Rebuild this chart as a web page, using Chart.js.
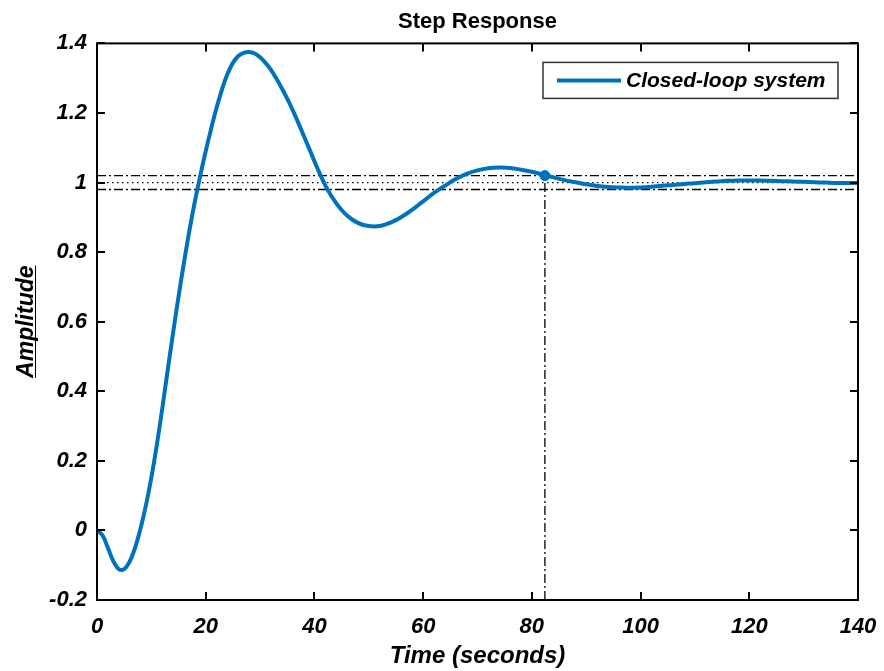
<!DOCTYPE html>
<html lang="en">
  <head>
    <meta charset="utf-8">
    <script src="https://cdn.jsdelivr.net/npm/chart.js"></script>
    <title>Step Response</title>
    <style>
      body { margin: 0; background: #fff; }
      #wrap { width: 884px; height: 671px; }
    </style>
  </head>
  <body>
    <div id="wrap"><canvas id="chart" width="884" height="671"></canvas></div>
  </body>
  <script>
    // step response samples (seconds, amplitude)
    const timeSec = [0, 1, 2, 3, 4, 5, 6, 7, 8, 9, 10, 11, 12, 13, 14, 15, 16, 17, 18, 19,
      20, 21, 22, 23, 24, 25, 26, 27, 28, 29, 30, 31, 32, 33, 34, 35, 36, 37, 38, 39,
      40, 41, 42, 43, 44, 45, 46, 47, 48, 49, 50, 51, 52, 53, 54, 55, 56, 57, 58, 59,
      60, 62, 64, 66, 68, 70, 72, 74, 76, 78, 80, 82, 84, 86, 88, 90, 92, 94, 96, 98,
      100, 102, 104, 106, 108, 110, 112, 114, 116, 118, 120, 122, 124, 126, 128, 130,
      132, 134, 136, 138, 140];
    const amplitude = [0, -0.014, -0.05, -0.088, -0.111, -0.111, -0.09, -0.05, 0.005, 0.072,
      0.152, 0.245, 0.35, 0.46, 0.568, 0.672, 0.77, 0.862, 0.945, 1.02,
      1.09, 1.155, 1.215, 1.268, 1.312, 1.344, 1.364, 1.373, 1.375, 1.371,
      1.36, 1.344, 1.324, 1.299, 1.271, 1.241, 1.208, 1.173, 1.136, 1.099,
      1.061, 1.025, 0.992, 0.964, 0.941, 0.921, 0.905, 0.893, 0.884, 0.878,
      0.875, 0.874, 0.875, 0.879, 0.885, 0.892, 0.901, 0.911, 0.922, 0.934,
      0.946, 0.97, 0.991, 1.01, 1.025, 1.035, 1.041, 1.043, 1.042, 1.037,
      1.031, 1.023, 1.015, 1.007, 1.001, 0.995, 0.99, 0.987, 0.986, 0.985,
      0.986, 0.988, 0.991, 0.993, 0.996, 0.998, 1.001, 1.003, 1.005, 1.006,
      1.006, 1.006, 1.005, 1.004, 1.003, 1.002, 1.001, 1.0, 0.999, 0.999, 0.999];

    const finalValue = 1;
    const settleBand = [0.98, 1.02]; // 2% band
    const settleTime = 82.4;
    const xRange = [0, 140];
    const yRange = [-0.2, 1.4];
    const xStep = 20;
    const yStep = 0.2;

    const blue = '#0072BD';
    const fontFam = '"Liberation Sans", Arial, sans-serif';

    const curve = timeSec.map((t, i) => ({x: t, y: amplitude[i]}));
    const hLine = v => [{x: xRange[0], y: v}, {x: xRange[1], y: v}];
    const dashDot = [9, 3, 2, 3];

    // box, inward ticks, legend and label underline
    const frame = {
      id: 'frame',
      afterDraw(chart) {
        const {ctx, chartArea: a, scales: {x, y}} = chart;
        ctx.save();
        ctx.strokeStyle = '#000';
        ctx.lineWidth = 2;
        ctx.strokeRect(a.left, a.top, a.right - a.left, a.bottom - a.top);
        ctx.beginPath();
        x.ticks.forEach(t => {
          const px = Math.round(x.getPixelForValue(t.value));
          ctx.moveTo(px, a.bottom); ctx.lineTo(px, a.bottom - 8);
          ctx.moveTo(px, a.top); ctx.lineTo(px, a.top + 8);
        });
        y.ticks.forEach(t => {
          const py = Math.round(y.getPixelForValue(t.value));
          ctx.moveTo(a.left, py); ctx.lineTo(a.left + 8, py);
          ctx.moveTo(a.right, py); ctx.lineTo(a.right - 8, py);
        });
        ctx.stroke();

        // legend
        const ds = chart.data.datasets[1];
        const lx = a.right - 315, ly = a.top + 19, lw = 295, lh = 36;
        ctx.fillStyle = '#fff';
        ctx.fillRect(lx, ly, lw, lh);
        ctx.strokeStyle = '#333';
        ctx.lineWidth = 1.5;
        ctx.strokeRect(lx, ly, lw, lh);
        ctx.strokeStyle = ds.borderColor;
        ctx.lineWidth = 4;
        ctx.beginPath();
        ctx.moveTo(lx + 14, ly + lh / 2);
        ctx.lineTo(lx + 78, ly + lh / 2);
        ctx.stroke();
        ctx.fillStyle = '#000';
        ctx.font = 'italic bold 21px ' + fontFam;
        ctx.textAlign = 'left';
        ctx.textBaseline = 'middle';
        ctx.fillText(ds.label, lx + 83, ly + lh / 2 + 1);

        // underline below the y axis title
        ctx.font = 'italic bold 23px ' + fontFam;
        const w = ctx.measureText('Amplitude').width;
        const cy = (a.top + a.bottom) / 2;
        ctx.strokeStyle = '#000';
        ctx.lineWidth = 1;
        ctx.beginPath();
        ctx.moveTo(35.5, cy - w / 2);
        ctx.lineTo(35.5, cy + w / 2);
        ctx.stroke();
        ctx.restore();
      }
    };

    const tickFont = {family: fontFam, size: 22, weight: 'bold', style: 'italic'};
    const refLine = {borderColor: '#000', borderWidth: 1.3, pointRadius: 0};

    new Chart(document.getElementById('chart'), {
      type: 'line',
      data: {
        datasets: [
          {
            label: 'settling point',
            data: [{x: settleTime, y: settleBand[1]}],
            showLine: false,
            pointRadius: 5,
            pointBackgroundColor: blue,
            pointBorderColor: blue
          },
          {
            label: 'Closed-loop system',
            data: curve,
            borderColor: blue,
            borderWidth: 4,
            pointRadius: 0,
            tension: 0.4
          },
          {...refLine, label: 'upper bound', data: hLine(settleBand[1]), borderDash: dashDot},
          {...refLine, label: 'lower bound', data: hLine(settleBand[0]), borderDash: dashDot},
          {...refLine, label: 'final value', data: hLine(finalValue), borderDash: [1.5, 3.5]},
          {
            ...refLine,
            label: 'settling time',
            data: [{x: settleTime, y: yRange[0]}, {x: settleTime, y: settleBand[1]}],
            borderDash: dashDot
          }
        ]
      },
      options: {
        responsive: false,
        animation: false,
        layout: {padding: {left: 0, right: 26, top: 0, bottom: 0}},
        plugins: {
          legend: {display: false},
          tooltip: {enabled: false},
          title: {
            display: true,
            text: 'Step Response',
            fullSize: false,
            color: '#000',
            font: {family: fontFam, size: 22, weight: 'bold'},
            padding: {top: 9, bottom: 8}
          }
        },
        scales: {
          x: {
            type: 'linear',
            min: xRange[0],
            max: xRange[1],
            afterFit: s => { s.height = 71; s.paddingLeft = 0; s.paddingRight = 0; },
            grid: {display: false, drawTicks: false},
            border: {display: false},
            ticks: {stepSize: xStep, color: '#000', font: tickFont, padding: 14, maxRotation: 0},
            title: {
              display: true,
              text: 'Time (seconds)',
              color: '#000',
              font: {family: fontFam, size: 24, weight: 'bold', style: 'italic'},
              padding: {top: 0, bottom: 0}
            }
          },
          y: {
            min: yRange[0],
            max: yRange[1],
            afterFit: s => { s.width = 97; },
            grid: {display: false, drawTicks: false},
            border: {display: false},
            ticks: {
              stepSize: yStep,
              color: '#000',
              font: tickFont,
              padding: 10,
              callback: v => String(+v.toFixed(1))
            },
            title: {
              display: true,
              text: 'Amplitude',
              color: '#000',
              font: {family: fontFam, size: 23, weight: 'bold', style: 'italic'},
              padding: {top: 13, bottom: 0}
            }
          }
        }
      },
      plugins: [frame]
    });
  </script>
</html>
